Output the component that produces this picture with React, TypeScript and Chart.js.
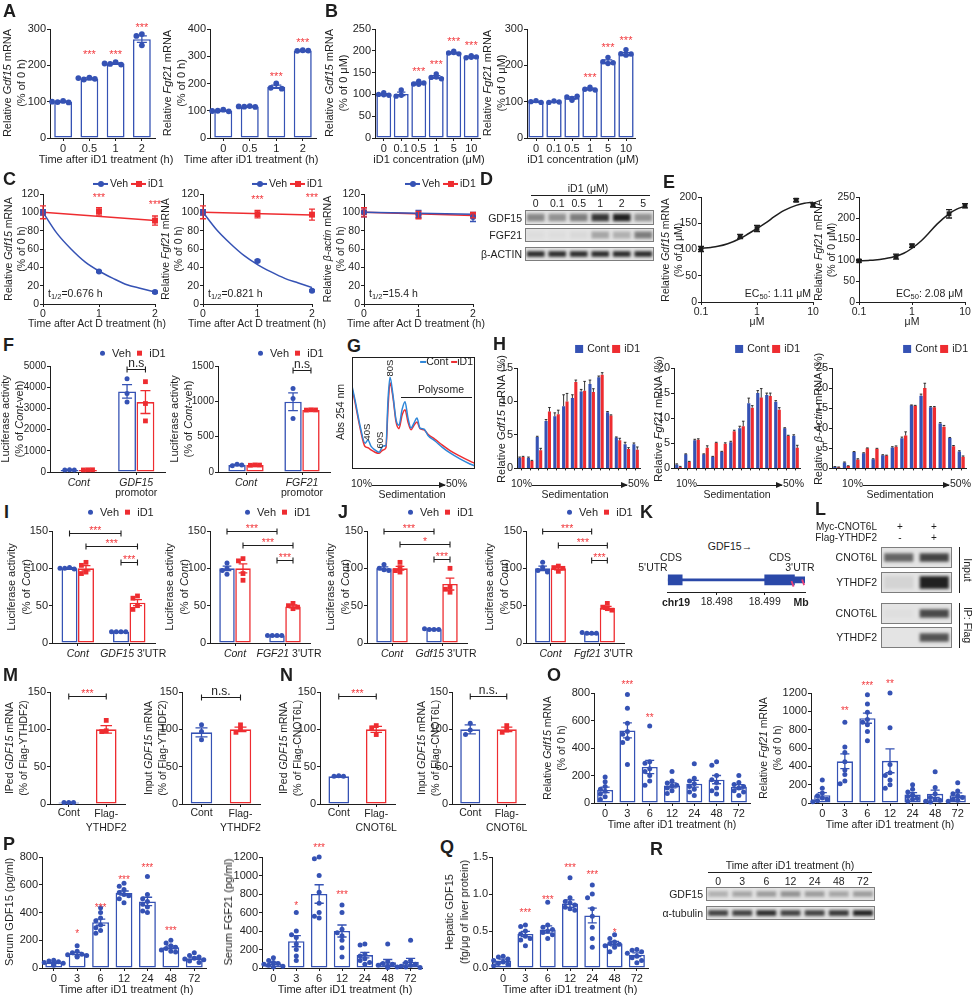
import React, { useEffect, useRef } from "react";
import { Chart, registerables } from "chart.js";

Chart.register(...registerables);

const FF = "'Liberation Sans', Arial, Helvetica, sans-serif";
const INK = "#1e1e1e";
const BLUE = "#3552b4";
const RED = "#ee2c30";
const STAR = "#f23b3f";
const GBLUE = "#2e86d8";
const KBLUE = "#2a48a8";
const PINK = "#e8407a";
Chart.defaults.font.family = FF;
Chart.defaults.color = INK;

/* ====================== DATA ====================== */
// A
const A_times = ["0", "0.5", "1", "2"];
const A1_mean = [100, 163, 205, 272];
const A1_sem = [1.5, 2.5, 2, 9];
const A1_pts = [[102, 99, 98, 100], [166, 161, 163, 165], [209, 204, 202, 205], [286, 281, 255]];
const A1_sig = ["", "***", "***", "***"];
const A1_sigY = [0, 238, 238, 312];
const A2_mean = [100, 116, 188, 320];
const A2_sem = [1.5, 1, 6, 1];
const A2_pts = [[104, 100, 98, 99], [117, 115, 114, 116], [200, 184, 181], [322, 320, 321]];
const A2_sig = ["", "", "***", "***"];
const A2_sigY = [0, 0, 237, 360];
// B
const B_conc = ["0", "0.1", "0.5", "1", "5", "10"];
const B1_mean = [100, 101, 126, 140, 195, 186];
const B1_sem = [1.5, 4, 2, 3, 1.5, 1.5];
const B1_pts = [[104, 100, 98, 99], [110, 98, 96], [130, 124, 126, 123], [147, 139, 136, 140], [199, 195, 193, 196], [189, 184, 186, 185]];
const B1_sig = ["", "", "***", "***", "***", "***"];
const B1_sigY = [0, 0, 160, 175, 227, 218];
const B2_mean = [100, 100, 110, 135, 210, 231];
const B2_sem = [1, 1, 3, 2, 5, 4];
const B2_pts = [[103, 100, 98], [102, 98, 99], [104, 113, 115, 109], [140, 134, 132, 135], [222, 210, 205, 207], [243, 232, 228, 231]];
const B2_sig = ["", "", "", "***", "***", "***"];
const B2_sigY = [0, 0, 0, 174, 258, 277];
// C
const C_t = [0, 1, 2];
const C_fitT = [0, 0.25, 0.5, 0.75, 1, 1.25, 1.5, 1.75, 2];
const C_lineT = [0, 2];
const C1_veh = [100, 35.5, 13];
const C1_vehSem = [3, 1, 1];
const C1_id1 = [100, 101, 91];
const C1_id1Sem = [7, 4, 5];
const C1_vehFit = [100, 77, 60, 46, 36, 28, 21, 17, 13];
const C1_id1Fit = [100, 91];
const C1_sig = ["", "***", "***"];
const C1_sigY = [0, 119, 111];
const C2_veh = [100, 47, 14.5];
const C2_vehSem = [3, 1, 1];
const C2_id1 = [100, 98, 97.5];
const C2_id1Sem = [7, 4, 6];
const C2_vehFit = [100, 81, 66, 53, 43, 35, 28, 23, 18];
const C2_id1Fit = [100, 97];
const C2_sig = ["", "***", "***"];
const C2_sigY = [0, 117, 119];
const C3_veh = [100, 98, 95];
const C3_vehSem = [5, 4, 5];
const C3_id1 = [100, 97, 97];
const C3_id1Sem = [5, 4, 3];
const C3_vehFit = [100, 98];
const C3_id1Fit = [100, 96.5];
// D blot (band intensities)
const D_lanes = ["0", "0.1", "0.5", "1", "2", "5"];
const D_gdf15 = [0.45, 0.4, 0.5, 0.85, 0.95, 0.4];
const D_fgf21 = [0.03, 0.03, 0.05, 0.3, 0.25, 0.5];
const D_actin = [0.9, 0.9, 0.9, 0.9, 0.9, 0.9];
// E
const E_x = [0.1, 0.5, 1, 5, 10];
const E_fitX = [0.1, 0.15, 0.2, 0.3, 0.5, 0.7, 1, 1.5, 2, 3, 5, 7, 10];
const E_ticks = [0.1, 1, 10];
const E1_y = [101, 125, 140, 194, 185];
const E1_sem = [5, 4, 6, 3, 4];
const E1_fit = [102, 104, 106, 111, 121, 130, 140, 152, 162, 174, 184, 188, 190];
const E2_y = [98, 108, 134, 210, 229];
const E2_sem = [3, 6, 4, 10, 5];
const E2_fit = [98, 99, 100, 103, 109, 116, 128, 146, 162, 186, 210, 221, 228];
// F
const F_cats = ["Cont", "promotor"];
const F1_veh = [100, 3800];
const F1_vehSem = [6, 320];
const F1_id1 = [100, 3300];
const F1_id1Sem = [4, 540];
const F1_vehPts = [[110, 95, 100], [4400, 3700, 3300]];
const F1_id1Pts = [[102, 96, 104], [4260, 3230, 2410]];
const F1_nsY = 4870;
const F2_veh = [100, 994];
const F2_vehSem = [6, 125];
const F2_id1 = [98, 879];
const F2_id1Sem = [2, 2];
const F2_vehPts = [[110, 90, 100], [1183, 1041, 757]];
const F2_id1Pts = [[100, 95, 98], [880, 876, 878]];
const F2_nsY = 1445;
// G polysome profile (x: % of gradient, y: relative A254)
const G_x = [0, 2.4, 6.5, 10.6, 13, 15.4, 18.7, 22, 25.2, 27.6, 29.3, 30.9, 33.3, 35.8, 38.2, 40.7, 43.1, 45.5, 48, 50.4, 52.8, 55.3, 58.5, 61.8, 67.5, 73.2, 79.7, 87.8, 95.9, 100];
const G_cont = [74, 62, 39, 23, 26, 20.5, 17, 15, 20.5, 21, 62, 82, 66, 44, 39, 53, 60, 45.5, 36.6, 41, 45.5, 36.6, 35.7, 30, 25, 19.6, 14.3, 9, 4.5, 2.7];
const G_id1 = [72, 60, 37, 20, 19, 17, 15, 14, 17, 19, 55, 77, 64, 42, 36, 48, 53, 42, 35, 39, 42, 36, 35, 31, 26.5, 21.5, 16.5, 11.5, 7, 5];
// H
const H_frac = ["1", "2", "3", "4", "5", "6", "7", "8", "9", "10", "11", "12", "13", "14"];
const H1_cont = [1.6, 1.6, 4.7, 7.1, 7.8, 9.3, 10.5, 11.5, 12.6, 13.6, 8.4, 4.6, 3.6, 3.6];
const H1_id1 = [1.7, 1.1, 2.7, 8.5, 8.1, 10.0, 12.9, 11.6, 11.4, 14.0, 7.9, 4.2, 2.9, 2.8];
const H1_contSem = [0.1, 0.1, 0.1, 0.2, 0.5, 1.7, 0.5, 0.3, 0.6, 0.2, 0.1, 0.1, 0.3, 0.2];
const H1_id1Sem = [0.1, 0.1, 0.3, 0.6, 0.6, 1.2, 0.3, 1.4, 0.5, 0.3, 0.1, 0.3, 0.2, 0.4];
const H2_cont = [0.8, 2.8, 5.6, 2.8, 2.3, 3.3, 5.2, 8.0, 13.0, 15.0, 14.6, 13.3, 8.0, 6.5];
const H2_id1 = [0.3, 1.3, 5.7, 4.1, 5.1, 4.9, 7.4, 8.4, 12.1, 14.1, 14.4, 11.7, 6.5, 4.1];
const H2_contSem = [0.1, 0.1, 0.2, 0.1, 0.1, 0.1, 0.2, 0.4, 1.0, 0.5, 0.4, 0.2, 0.1, 0.2];
const H2_id1Sem = [0.1, 0.1, 0.2, 0.4, 0.1, 0.2, 0.2, 1.0, 0.4, 1.8, 0.6, 0.4, 0.1, 0.5];
const H3_cont = [0.4, 1.5, 4.1, 3.8, 2.3, 3.3, 5.2, 7.5, 15.7, 18.1, 15.2, 11.2, 7.6, 4.2];
const H3_id1 = [0.3, 0.6, 2.2, 5.0, 4.9, 3.2, 5.4, 8.2, 15.6, 20.0, 15.2, 10.4, 5.5, 2.9];
const H3_contSem = [0.05, 0.1, 0.1, 0.1, 0.1, 0.1, 0.2, 0.3, 0.1, 0.4, 0.2, 0.2, 0.1, 0.2];
const H3_id1Sem = [0.05, 0.05, 0.2, 0.1, 0.1, 0.1, 0.2, 0.9, 0.1, 1.2, 0.2, 0.3, 0.2, 0.2];
// I / J
const IJ_cats = ["Cont", "3'UTR"];
const I1_veh = [100, 15];
const I1_vehSem = [1, 0.3];
const I1_id1 = [100, 54];
const I1_id1Sem = [3.5, 4];
const I1_vehPts = [[101, 100, 99, 100], [15, 15, 15, 15]];
const I1_id1Pts = [[108, 104, 95, 93], [63, 60, 50, 45]];
const I1_brY = [147, 130, 108];
const I1_brT = ["***", "***", "***"];
const I2_veh = [100, 10];
const I2_vehSem = [3, 0.3];
const I2_id1 = [100, 49];
const I2_id1Sem = [6, 2];
const I2_vehPts = [[107, 100, 97, 92], [10, 10, 10, 10]];
const I2_id1Pts = [[113, 110, 93, 84], [53, 50, 48, 46]];
const I2_brY = [150, 131, 111];
const I2_brT = ["***", "***", "***"];
const J1_veh = [100, 18.5];
const J1_vehSem = [2, 0.3];
const J1_id1 = [100, 79];
const J1_id1Sem = [2.5, 8];
const J1_vehPts = [[105, 100, 98, 97], [18, 18, 18, 19]];
const J1_id1Pts = [[108, 101, 97, 95], [100, 75, 72, 68]];
const J1_brY = [150, 132, 112];
const J1_brT = ["***", "*", "***"];
const J2_veh = [100, 13];
const J2_vehSem = [3, 0.4];
const J2_id1 = [100, 47];
const J2_id1Sem = [2, 2];
const J2_vehPts = [[108, 101, 97, 95], [13, 13, 13, 14]];
const J2_id1Pts = [[103, 101, 100, 96], [53, 48, 46, 44]];
const J2_brY = [150, 131, 111];
const J2_brT = ["***", "***", "***"];
// K gene model (Mb)
const K_range = [18.49698, 18.49984];
const K_exon1 = [18.49698, 18.49728];
const K_exon2 = [18.499, 18.49962];
const K_utr3 = [18.49962, 18.49984];
const K_ticks = [18.498, 18.499];
const K_m6a = [18.49958, 18.4998];
// L blot
const L_inCnot = [0.62, 0.78];
const L_inYth = [0.08, 0.95];
const L_ipCnot = [0.02, 0.75];
const L_ipYth = [0.0, 0.7];
// M / N
const MN_cats = ["Cont", "Flag"];
const M1_mean = [2, 100];
const M1_sem = [0.3, 5];
const M1_contPts = [[2, 2, 2], []];
const M1_flagPts = [[], [112, 98, 97]];
const M1_br = { y: 144, t: "***" };
const M2_mean = [96, 100];
const M2_sem = [6, 3];
const M2_contPts = [[106, 97, 86], []];
const M2_flagPts = [[], [106, 100, 96]];
const M2_br = { y: 143, t: "n.s." };
const N1_mean = [37, 100];
const N1_sem = [0.5, 4];
const N1_contPts = [[38, 37, 37], []];
const N1_flagPts = [[], [105, 102, 93]];
const N1_br = { y: 144, t: "***" };
const N2_mean = [100, 100];
const N2_sem = [6, 3];
const N2_contPts = [[108, 99, 93], []];
const N2_flagPts = [[], [105, 99, 96]];
const N2_br = { y: 144, t: "n.s." };
// O / P / Q (time course, h)
const T_h = ["0", "3", "6", "12", "24", "48", "72"];
const O1_mean = [95, 528, 262, 128, 140, 170, 118];
const O1_sem = [20, 55, 48, 18, 25, 30, 16];
const O1_pts = [[190, 155, 120, 100, 85, 65, 45, 25], [790, 690, 580, 520, 500, 470, 440, 280], [560, 300, 290, 250, 230, 200, 160, 130], [230, 160, 145, 130, 125, 110, 90, 70], [285, 180, 160, 140, 120, 100, 80, 55], [300, 275, 200, 170, 150, 110, 90, 65], [200, 150, 135, 120, 110, 90, 80, 55]];
const O1_sig = ["", "***", "**", "", "", "", ""];
const O1_sigY = [0, 880, 640, 0, 0, 0, 0];
const O2_mean = [85, 455, 925, 460, 92, 100, 85];
const O2_sem = [28, 80, 55, 130, 22, 40, 25];
const O2_pts = [[250, 160, 110, 80, 55, 40, 25, 15], [880, 610, 550, 450, 360, 310, 240, 210], [1180, 1080, 990, 910, 880, 855, 780, 680], [1200, 820, 420, 330, 300, 250, 200, 160], [200, 150, 120, 90, 70, 50, 40, 20], [340, 170, 100, 60, 40, 30, 20, 10], [220, 130, 100, 80, 60, 40, 30, 20]];
const O2_sig = ["", "**", "***", "**", "", "", ""];
const O2_sigY = [0, 1030, 1310, 1325, 0, 0, 0];
const P1_mean = [38, 105, 330, 540, 480, 150, 70];
const P1_sem = [4, 8, 22, 15, 30, 10, 8];
const P1_pts = [[55, 50, 45, 40, 35, 30, 25, 20], [160, 120, 110, 100, 95, 90, 85, 80], [435, 400, 360, 340, 310, 290, 270, 250], [610, 590, 565, 545, 530, 520, 500, 470], [660, 530, 500, 480, 460, 440, 410, 400], [200, 180, 160, 150, 140, 130, 120, 115], [110, 90, 80, 70, 65, 60, 50, 40]];
const P1_sig = ["", "*", "***", "***", "***", "***", ""];
const P1_sigY = [0, 262, 452, 656, 740, 288, 0];
const P2_mean = [50, 290, 800, 400, 140, 62, 68];
const P2_sem = [12, 60, 100, 65, 30, 30, 35];
const P2_pts = [[110, 80, 60, 50, 40, 30, 20, 10], [600, 400, 360, 330, 260, 200, 130, 80], [1200, 1180, 1000, 820, 700, 600, 560, 540], [680, 600, 420, 380, 350, 300, 220, 120], [260, 250, 150, 130, 100, 80, 60, 40], [260, 70, 50, 40, 30, 20, 10, 5], [300, 80, 60, 40, 30, 20, 10, 5]];
const P2_sig = ["", "*", "***", "***", "", "", ""];
const P2_sigY = [0, 700, 1326, 822, 0, 0, 0];
const Q_mean = [0.1, 0.46, 0.52, 0.87, 0.71, 0.33, 0.18];
const Q_sem = [0.02, 0.035, 0.05, 0.05, 0.1, 0.03, 0.025];
const Q_pts = [[0.16, 0.15, 0.12, 0.1, 0.08, 0.06, 0.05, 0.03], [0.58, 0.56, 0.5, 0.46, 0.43, 0.4, 0.38, 0.3], [0.89, 0.58, 0.55, 0.52, 0.5, 0.48, 0.45, 0.4], [1.22, 0.95, 0.9, 0.88, 0.85, 0.82, 0.8, 0.78], [1.12, 1.0, 0.95, 0.8, 0.7, 0.55, 0.4, 0.28], [0.45, 0.4, 0.35, 0.33, 0.32, 0.3, 0.28, 0.22], [0.25, 0.24, 0.22, 0.2, 0.16, 0.14, 0.1, 0.07]];
const Q_sig = ["", "***", "***", "***", "***", "*", ""];
const Q_sigY = [0, 0.78, 0.96, 1.39, 1.3, 0.51, 0];
// R blot
const R_lanes = ["0", "3", "6", "12", "24", "48", "72"];
const R_gdf15 = [0.25, 0.3, 0.35, 0.4, 0.35, 0.3, 0.35];
const R_tub = [0.8, 0.8, 0.9, 0.8, 0.8, 0.85, 0.95];

/* ====================== LAYOUT ====================== */
type Plot = [number, number, number, number];
const PA1: Plot = [50, 29, 155, 138];
const PA2: Plot = [210, 29, 316, 138];
const PB1: Plot = [375, 29, 480, 138];
const PB2: Plot = [527, 29, 635, 138];
const PC1: Plot = [43, 194, 155, 304];
const PC2: Plot = [203, 194, 312, 304];
const PC3: Plot = [364, 194, 473, 304];
const PE1: Plot = [701, 197, 813, 302];
const PE2: Plot = [859, 197, 965, 302];
const PF1: Plot = [50, 366, 165, 472];
const PF2: Plot = [218, 366, 330, 472];
const PG: Plot = [352, 357, 475, 469];
const PH1: Plot = [517, 368, 640, 470];
const PH2: Plot = [674, 368, 800, 470];
const PH3: Plot = [832, 368, 966, 470];
const PI1: Plot = [52, 531, 155, 643];
const PI2: Plot = [210, 531, 310, 643];
const PJ1: Plot = [367, 531, 467, 643];
const PJ2: Plot = [526, 531, 624, 643];
const PK: Plot = [662, 562, 805, 592];
const PM1: Plot = [50, 692, 125, 804];
const PM2: Plot = [182, 692, 260, 804];
const PN1: Plot = [320, 692, 395, 804];
const PN2: Plot = [452, 692, 525, 804];
const PO1: Plot = [594, 693, 750, 803];
const PO2: Plot = [811, 693, 969, 803];
const PP1: Plot = [42, 857, 206, 968];
const PP2: Plot = [262, 857, 422, 968];
const PQ: Plot = [492, 857, 648, 968];
const BD = [[525, 210, 129, 15], [525, 228, 129, 14], [525, 247, 129, 14]];
const BL = [[881, 547, 71, 21], [881, 572, 71, 21], [881, 603, 71, 21], [881, 627, 71, 21]];
const BR = [[706, 887, 169, 14], [706, 906, 169, 14]];

const cx = (p: Plot, n: number, i: number) => p[0] + ((i + 0.5) * (p[2] - p[0])) / n;
const gx = (k: number, n: number, c: number) => c * ((k + 0.5) / n - 0.5);

/* ====================== PLUGINS ====================== */
const errPlugin = {
  id: "errbars",
  afterDatasetsDraw(chart: any) {
    const ctx = chart.ctx;
    chart.data.datasets.forEach((ds: any, di: number) => {
      if (!ds.sem) return;
      const meta = chart.getDatasetMeta(di);
      const ys = chart.scales[meta.yAxisID];
      ctx.save();
      ctx.lineWidth = ds.errW || 1.3;
      meta.data.forEach((el: any, i: number) => {
        const s = ds.sem[i];
        if (s == null) return;
        const raw = ds.data[i];
        const v = typeof raw === "number" ? raw : raw.y;
        const x = el.x;
        const yT = ys.getPixelForValue(v + s);
        const yB = ys.getPixelForValue(v - s);
        const yM = ys.getPixelForValue(v);
        const cw = ds.capW ?? 3;
        const col = ds.errColor;
        ctx.strokeStyle = Array.isArray(col) ? col[i] : col;
        ctx.beginPath();
        ctx.moveTo(x, ds.errUp ? yM : yB);
        ctx.lineTo(x, yT);
        ctx.moveTo(x - cw, yT);
        ctx.lineTo(x + cw, yT);
        if (!ds.errUp) {
          ctx.moveTo(x - cw, yB);
          ctx.lineTo(x + cw, yB);
        }
        ctx.stroke();
      });
      ctx.restore();
    });
  },
};

// scatter dots of a bar panel, positioned through the category x scale and linear y scale
function dotsPlugin(sets: any[]) {
  return {
    id: "dots",
    afterDatasetsDraw(chart: any) {
      const xs = chart.scales.x;
      const ys = chart.scales.y;
      const ctx = chart.ctx;
      const step = xs.getPixelForValue(1) - xs.getPixelForValue(0);
      ctx.save();
      sets.forEach((st) => {
        ctx.fillStyle = st.color;
        st.pts.forEach((p: any) => {
          const x = xs.getPixelForValue(p.i) + p.g * step + p.dx;
          const y = ys.getPixelForValue(p.v);
          ctx.beginPath();
          if (st.rect) ctx.rect(x - st.sz / 2, y - st.sz / 2, st.sz, st.sz);
          else ctx.arc(x, y, st.sz / 2, 0, Math.PI * 2);
          ctx.fill();
        });
      });
      ctx.restore();
    },
  };
}

function annPlugin(stars: any[], brackets: any[], fs: number, isCat: boolean) {
  return {
    id: "ann",
    afterDatasetsDraw(chart: any) {
      const ctx = chart.ctx;
      const xs = chart.scales.x;
      const ys = chart.scales.y;
      const xp = isCat
        ? (v: number) => xs.getPixelForValue(0) + v * (xs.getPixelForValue(1) - xs.getPixelForValue(0))
        : (v: number) => xs.getPixelForValue(v);
      ctx.save();
      ctx.textAlign = "center";
      ctx.textBaseline = "alphabetic";
      brackets.forEach((b) => {
        const xa = xp(b.x1);
        const xb = xp(b.x2);
        const y = Math.round(ys.getPixelForValue(b.y)) + 0.5;
        ctx.strokeStyle = INK;
        ctx.lineWidth = 1.1;
        ctx.beginPath();
        ctx.moveTo(xa, y);
        ctx.lineTo(xb, y);
        ctx.moveTo(xa, y - 3);
        ctx.lineTo(xa, y + 3);
        ctx.moveTo(xb, y - 3);
        ctx.lineTo(xb, y + 3);
        ctx.stroke();
        const star = b.t.indexOf("*") >= 0;
        const f = star ? fs : fs + 1.5;
        ctx.fillStyle = star ? STAR : INK;
        ctx.font = `${f}px ${FF}`;
        ctx.fillText(b.t, (xa + xb) / 2, star ? y - 6 + f * 0.58 : y - 3);
      });
      stars.forEach((s) => {
        const x = xp(s.x);
        const y = ys.getPixelForValue(s.y);
        ctx.fillStyle = STAR;
        ctx.font = `${fs}px ${FF}`;
        ctx.fillText(s.t, x, y + fs * 0.58);
      });
      ctx.restore();
    },
  };
}

const framePlugin = {
  id: "frame",
  afterDraw(chart: any) {
    const { ctx, chartArea: a } = chart;
    ctx.save();
    ctx.strokeStyle = INK;
    ctx.lineWidth = 1;
    ctx.strokeRect(a.left + 0.5, a.top + 0.5, a.width - 1, a.height - 1);
    ctx.restore();
  },
};

const blotPlugin = {
  id: "blot",
  beforeDatasetsDraw(chart: any) {
    const { ctx, chartArea: a } = chart;
    ctx.save();
    ctx.fillStyle = "#e4e4e4";
    ctx.fillRect(a.left, a.top, a.width, a.height);
    ctx.restore();
    ctx.save();
    ctx.filter = "blur(1.4px)";
  },
  afterDatasetsDraw(chart: any) {
    const { ctx, chartArea: a } = chart;
    ctx.restore();
    ctx.save();
    ctx.strokeStyle = "#7d7d7d";
    ctx.lineWidth = 1;
    ctx.strokeRect(a.left + 0.5, a.top + 0.5, a.width - 1, a.height - 1);
    ctx.restore();
  },
};

const noEvents = { responsive: false, maintainAspectRatio: false, animation: false, events: [] as any[] };
const noLegend = { legend: { display: false }, tooltip: { enabled: false } };

/* ====================== BUILDERS ====================== */
function yAxis(min: number, max: number, step: number, fs: number, L: number, fmt?: (v: number) => string) {
  return {
    type: "linear",
    min,
    max,
    ticks: { stepSize: step, font: { size: fs }, color: INK, padding: 1, callback: fmt ?? ((v: any) => String(v)) },
    grid: { drawOnChartArea: false, tickLength: 3, color: INK, lineWidth: 1 },
    border: { display: true, color: INK, width: 1 },
    afterFit: (s: any) => {
      s.width = L;
    },
  };
}

function barChart(p: any) {
  const [x0, y0, x1, y1] = p.plot;
  const L = p.L ?? 36,
    T = p.T ?? 26,
    R = p.R ?? 8;
  const B = p.B ?? (p.xlabels ? 22 : 8);
  const n = p.cats.length;
  const s = (x1 - x0) / n;
  const c = p.catPct ?? 1,
    bp = p.barPct ?? 0.7;
  const nb = p.bars.length;
  const fs = p.fs ?? 11;
  const ymin = p.ymin ?? 0;
  const H = y1 - y0;
  const barW = ((s * c) / nb) * bp;
  const rect = [x0 - L, y0 - T, x1 - x0 + L + R, H + T + B];
  const make = () => {
    const ds: any[] = [];
    p.bars.forEach((b: any) =>
      ds.push({
        type: "bar",
        data: b.data,
        sem: b.sem,
        errUp: b.errUp,
        errColor: b.errColor ?? b.color,
        errW: b.errW ?? 1.3,
        capW: b.capW ?? Math.max(2, barW * 0.28),
        backgroundColor: b.fill ?? "#ffffff",
        borderColor: b.color,
        borderWidth: b.bw ?? 1.6,
        borderSkipped: b.fill ? "start" : false,
        categoryPercentage: c,
        barPercentage: bp,
      })
    );
    const sets = (p.dots ?? []).map((d: any) => {
      const sz = d.sz ?? 4.8;
      const pts: any[] = [];
      d.pts.forEach((arr: number[], i: number) => {
        const placed: number[][] = [];
        arr.forEach((v) => {
          const py = ((v - ymin) / (p.ymax - ymin)) * H;
          let off = 0;
          for (let m = 0; m < 15; m++) {
            const cand = m === 0 ? 0 : (m % 2 ? -1 : 1) * Math.ceil(m / 2) * sz * 0.95;
            if (Math.abs(cand) > barW * 0.62 + 0.1) continue;
            if (placed.every((q) => Math.hypot(q[0] - cand, q[1] - py) >= sz * 0.9)) {
              off = cand;
              break;
            }
          }
          placed.push([off, py]);
          pts.push({ i, g: d.off ?? 0, dx: off, v });
        });
      });
      return { pts, color: d.color, rect: d.shape === "rect", sz };
    });
    return {
      type: "bar",
      data: { labels: p.cats, datasets: ds },
      options: {
        ...noEvents,
        layout: { padding: { top: T, right: R, left: 0, bottom: 0 } },
        plugins: noLegend,
        scales: {
          x: {
            type: "category",
            offset: true,
            ticks: { display: !!p.xlabels, font: { size: fs }, color: INK, autoSkip: false, maxRotation: 0, padding: 1 },
            grid: { drawOnChartArea: false, offset: false, tickLength: p.tickLen ?? 3, color: INK, lineWidth: 1 },
            border: { display: true, color: INK, width: 1 },
            afterFit: (sc: any) => {
              sc.height = B;
            },
          },
          y: yAxis(ymin, p.ymax, p.step, p.yfs ?? fs, L, p.yfmt),
        },
      },
      plugins: [errPlugin, dotsPlugin(sets), annPlugin(p.stars ?? [], p.brackets ?? [], p.sfs ?? 10.5, true)],
    };
  };
  return { rect, make };
}

function lineChart(p: any) {
  const [x0, y0, x1, y1] = p.plot;
  const L = 36,
    T = 24,
    R = 12,
    B = 20;
  const fs = p.fs ?? 10.5;
  const rect = [x0 - L, y0 - T, x1 - x0 + L + R, y1 - y0 + T + B];
  const make = () => {
    const ds: any[] = [];
    p.lines.forEach((l: any) =>
      ds.push({
        type: "line",
        data: l.x.map((x: number, i: number) => ({ x, y: l.y[i] })),
        borderColor: l.color,
        borderWidth: 1.5,
        pointRadius: 0,
        tension: l.smooth ? 0.4 : 0,
        cubicInterpolationMode: l.smooth ? "monotone" : "default",
        fill: false,
        order: l.order ?? 3,
      })
    );
    p.pts.forEach((q: any) =>
      ds.push({
        type: "scatter",
        data: q.x.map((x: number, i: number) => ({ x, y: q.y[i] })),
        sem: q.sem,
        errColor: q.color,
        errW: 1.3,
        capW: 3,
        pointStyle: q.shape,
        pointRadius: q.r,
        backgroundColor: q.color,
        borderColor: q.color,
        borderWidth: 0,
        order: q.order ?? 1,
        clip: false,
      })
    );
    const xScale: any = p.log
      ? {
          type: "logarithmic",
          min: p.xmin,
          max: p.xmax,
          afterBuildTicks: (s: any) => {
            s.ticks = p.xticks.map((v: number) => ({ value: v }));
          },
          ticks: { font: { size: fs }, color: INK, padding: 1, callback: (v: any) => String(v) },
        }
      : { type: "linear", min: p.xmin, max: p.xmax, ticks: { stepSize: 1, font: { size: fs }, color: INK, padding: 1 } };
    Object.assign(xScale, {
      grid: { drawOnChartArea: false, tickLength: 3, color: INK },
      border: { display: true, color: INK, width: 1 },
      afterFit: (s: any) => {
        s.height = B;
      },
    });
    return {
      type: "line",
      data: { datasets: ds },
      options: {
        ...noEvents,
        layout: { padding: { top: T, right: R, left: 0, bottom: 0 } },
        plugins: noLegend,
        scales: { x: xScale, y: yAxis(0, p.ymax, p.step, fs, L) },
      },
      plugins: [errPlugin, annPlugin(p.stars ?? [], [], 10.5, false)],
    };
  };
  return { rect, make };
}

function blotChart(r: number[], vals: number[], band: number[]) {
  return {
    rect: r,
    make: () => ({
      type: "bar",
      data: {
        labels: vals.map((_, i) => String(i)),
        datasets: [
          {
            data: vals.map(() => band),
            backgroundColor: vals.map((v) => `rgba(22,22,22,${v})`),
            borderWidth: 0,
            categoryPercentage: 1,
            barPercentage: 0.82,
          },
        ],
      },
      options: {
        ...noEvents,
        layout: { padding: 0 },
        plugins: noLegend,
        scales: { x: { display: false }, y: { display: false, min: 0, max: 1 } },
      },
      plugins: [blotPlugin],
    }),
  };
}

function sigList(sig: string[], y: number[]) {
  const out: any[] = [];
  sig.forEach((t, i) => {
    if (t) out.push({ x: i, y: y[i], t });
  });
  return out;
}
function sigListX(xs: number[], sig: string[], y: number[]) {
  const out: any[] = [];
  sig.forEach((t, i) => {
    if (t) out.push({ x: xs[i], y: y[i], t });
  });
  return out;
}

function groupPanel(plot: Plot, ymax: number, step: number, veh: number[], vehSem: number[], id1: number[], id1Sem: number[], vehPts: number[][], id1Pts: number[][], brackets: any[], cat: number, extra?: any) {
  return barChart({
    plot,
    ymax,
    step,
    cats: IJ_cats,
    catPct: cat,
    barPct: 0.97,
    bars: [
      { data: veh, sem: vehSem, color: BLUE },
      { data: id1, sem: id1Sem, color: RED },
    ],
    dots: [
      { pts: vehPts, off: gx(0, 2, cat), color: BLUE, sz: 5 },
      { pts: id1Pts, off: gx(1, 2, cat), color: RED, shape: "rect", sz: 4.8 },
    ],
    brackets,
    ...extra,
  });
}

function ijBrackets(yv: number[], tv: string[], c: number) {
  const o0 = gx(0, 2, c),
    o1 = gx(1, 2, c);
  return [
    { x1: 0 + o0, x2: 1 + o0, y: yv[0], t: tv[0] },
    { x1: 0 + o1, x2: 1 + o1, y: yv[1], t: tv[1] },
    { x1: 1 + o0, x2: 1 + o1, y: yv[2], t: tv[2] },
  ];
}

function mnPanel(plot: Plot, mean: number[], sem: number[], cPts: number[][], fPts: number[][], br: any) {
  return barChart({
    plot,
    ymax: 150,
    step: 50,
    cats: MN_cats,
    barPct: 0.55,
    bars: [{ data: mean, sem, color: [BLUE, RED], errColor: [BLUE, RED] }],
    dots: [
      { pts: cPts, color: BLUE, sz: 5 },
      { pts: fPts, color: RED, shape: "rect", sz: 4.8 },
    ],
    brackets: [{ x1: 0, x2: 1, y: br.y, t: br.t }],
  });
}

function hPanel(plot: Plot, ymax: number, cont: number[], contSem: number[], id1: number[], id1Sem: number[]) {
  return barChart({
    plot,
    ymax,
    step: 5,
    cats: H_frac,
    catPct: 0.78,
    barPct: 0.9,
    B: 6,
    tickLen: 2,
    bars: [
      { data: cont, sem: contSem, color: BLUE, fill: BLUE, bw: 0, errUp: true, errColor: INK, errW: 0.9, capW: 1.3 },
      { data: id1, sem: id1Sem, color: RED, fill: RED, bw: 0, errUp: true, errColor: INK, errW: 0.9, capW: 1.3 },
    ],
  });
}

function timePanel(plot: Plot, ymax: number, step: number, mean: number[], sem: number[], pts: number[][], sig: string[], sigY: number[], yfmt?: any) {
  return barChart({
    plot,
    ymax,
    step,
    cats: T_h,
    xlabels: true,
    barPct: 0.72,
    bars: [{ data: mean, sem, color: BLUE }],
    dots: [{ pts, color: BLUE, sz: 5 }],
    stars: sigList(sig, sigY),
    yfmt,
    sfs: 10,
  });
}

const geneChart = {
  rect: [PK[0], PK[1], PK[2] - PK[0] + 14, PK[3] - PK[1] + 16],
  make: () => ({
    type: "bar",
    data: {
      labels: ["GDF15"],
      datasets: [
        { data: [K_utr3], backgroundColor: KBLUE, barThickness: 6, grouped: false, order: 1 },
        { data: [K_exon1], backgroundColor: KBLUE, barThickness: 10, grouped: false, order: 1 },
        { data: [K_exon2], backgroundColor: KBLUE, barThickness: 10, grouped: false, order: 1 },
        { data: [K_range], backgroundColor: KBLUE, barThickness: 2, grouped: false, order: 2 },
        {
          type: "scatter",
          indexAxis: "x",
          data: K_m6a.map((x, i) => ({ x, y: i === 0 ? 0.18 : 0.3 })),
          xAxisID: "x",
          yAxisID: "y2",
          pointStyle: "line",
          rotation: 70,
          pointRadius: 3,
          borderColor: PINK,
          borderWidth: 1.8,
          order: 0,
          clip: false,
        },
      ],
    },
    options: {
      ...noEvents,
      indexAxis: "y",
      layout: { padding: { left: 0, right: 14, top: 0, bottom: 0 } },
      plugins: noLegend,
      scales: {
        x: {
          type: "linear",
          min: K_range[0],
          max: K_range[1],
          afterBuildTicks: (s: any) => {
            s.ticks = K_ticks.map((v) => ({ value: v }));
          },
          ticks: { font: { size: 10.5 }, color: INK, padding: 1, callback: (v: any) => Number(v).toFixed(3) },
          grid: { drawOnChartArea: false, tickLength: 3, color: INK },
          border: { display: true, color: INK, width: 1 },
          afterFit: (s: any) => {
            s.height = 16;
          },
        },
        y: { type: "category", display: false },
        y2: { type: "linear", min: 0, max: 1, display: false },
      },
    },
  }),
};

const polyChart = {
  rect: [PG[0], PG[1], PG[2] - PG[0], PG[3] - PG[1]],
  make: () => ({
    type: "line",
    data: {
      datasets: [
        { data: G_x.map((x, i) => ({ x, y: G_cont[i] })), borderColor: GBLUE, borderWidth: 1.5, pointRadius: 0, tension: 0.35, cubicInterpolationMode: "monotone" },
        { data: G_x.map((x, i) => ({ x, y: G_id1[i] })), borderColor: RED, borderWidth: 1.5, pointRadius: 0, tension: 0.35, cubicInterpolationMode: "monotone" },
      ],
    },
    options: {
      ...noEvents,
      layout: { padding: 0 },
      plugins: noLegend,
      scales: { x: { type: "linear", min: 0, max: 100, display: false }, y: { min: 0, max: 100, display: false } },
    },
    plugins: [framePlugin],
  }),
};

const CHARTS: any[] = [
  barChart({ plot: PA1, ymax: 300, step: 100, cats: A_times, xlabels: true, barPct: 0.68, bars: [{ data: A1_mean, sem: A1_sem, color: BLUE }], dots: [{ pts: A1_pts, color: BLUE, sz: 5.8 }], stars: sigList(A1_sig, A1_sigY), sfs: 11 }),
  barChart({ plot: PA2, ymax: 400, step: 100, cats: A_times, xlabels: true, barPct: 0.68, bars: [{ data: A2_mean, sem: A2_sem, color: BLUE }], dots: [{ pts: A2_pts, color: BLUE, sz: 5.8 }], stars: sigList(A2_sig, A2_sigY), sfs: 11 }),
  barChart({ plot: PB1, ymax: 250, step: 50, cats: B_conc, xlabels: true, barPct: 0.85, bars: [{ data: B1_mean, sem: B1_sem, color: BLUE }], dots: [{ pts: B1_pts, color: BLUE, sz: 5.4 }], stars: sigList(B1_sig, B1_sigY), sfs: 11 }),
  barChart({ plot: PB2, ymax: 300, step: 100, cats: B_conc, xlabels: true, barPct: 0.85, bars: [{ data: B2_mean, sem: B2_sem, color: BLUE }], dots: [{ pts: B2_pts, color: BLUE, sz: 5.4 }], stars: sigList(B2_sig, B2_sigY), sfs: 11 }),
  lineChart({
    plot: PC1, xmin: 0, xmax: 2, ymax: 120, step: 20,
    lines: [{ x: C_lineT, y: C1_id1Fit, color: RED }, { x: C_fitT, y: C1_vehFit, color: BLUE, smooth: true, order: 2 }],
    pts: [{ x: C_t, y: C1_veh, sem: C1_vehSem, color: BLUE, shape: "circle", r: 3 }, { x: C_t, y: C1_id1, sem: C1_id1Sem, color: RED, shape: "rect", r: 4.2 }],
    stars: sigListX(C_t, C1_sig, C1_sigY),
  }),
  lineChart({
    plot: PC2, xmin: 0, xmax: 2, ymax: 120, step: 20,
    lines: [{ x: C_lineT, y: C2_id1Fit, color: RED }, { x: C_fitT, y: C2_vehFit, color: BLUE, smooth: true, order: 2 }],
    pts: [{ x: C_t, y: C2_veh, sem: C2_vehSem, color: BLUE, shape: "circle", r: 3 }, { x: C_t, y: C2_id1, sem: C2_id1Sem, color: RED, shape: "rect", r: 4.2 }],
    stars: sigListX(C_t, C2_sig, C2_sigY),
  }),
  lineChart({
    plot: PC3, xmin: 0, xmax: 2, ymax: 120, step: 20,
    lines: [{ x: C_lineT, y: C3_id1Fit, color: RED }, { x: C_lineT, y: C3_vehFit, color: BLUE, order: 2 }],
    pts: [{ x: C_t, y: C3_veh, sem: C3_vehSem, color: BLUE, shape: "circle", r: 3, order: 0 }, { x: C_t, y: C3_id1, sem: C3_id1Sem, color: RED, shape: "rect", r: 4.2 }],
  }),
  lineChart({
    plot: PE1, log: true, xmin: 0.1, xmax: 10, xticks: E_ticks, ymax: 200, step: 50,
    lines: [{ x: E_fitX, y: E1_fit, color: INK, smooth: true }],
    pts: [{ x: E_x, y: E1_y, sem: E1_sem, color: INK, shape: "rect", r: 3.4 }],
  }),
  lineChart({
    plot: PE2, log: true, xmin: 0.1, xmax: 10, xticks: E_ticks, ymax: 250, step: 50,
    lines: [{ x: E_fitX, y: E2_fit, color: INK, smooth: true }],
    pts: [{ x: E_x, y: E2_y, sem: E2_sem, color: INK, shape: "rect", r: 3.4 }],
  }),
  groupPanel(PF1, 5000, 1000, F1_veh, F1_vehSem, F1_id1, F1_id1Sem, F1_vehPts, F1_id1Pts, [{ x1: 1 + gx(0, 2, 0.64), x2: 1 + gx(1, 2, 0.64), y: F1_nsY, t: "n.s" }], 0.64, { cats: F_cats, yfs: 10 }),
  groupPanel(PF2, 1500, 500, F2_veh, F2_vehSem, F2_id1, F2_id1Sem, F2_vehPts, F2_id1Pts, [{ x1: 1 + gx(0, 2, 0.64), x2: 1 + gx(1, 2, 0.64), y: F2_nsY, t: "n.s" }], 0.64, { cats: F_cats, yfs: 10 }),
  polyChart,
  hPanel(PH1, 15, H1_cont, H1_contSem, H1_id1, H1_id1Sem),
  hPanel(PH2, 20, H2_cont, H2_contSem, H2_id1, H2_id1Sem),
  hPanel(PH3, 25, H3_cont, H3_contSem, H3_id1, H3_id1Sem),
  groupPanel(PI1, 150, 50, I1_veh, I1_vehSem, I1_id1, I1_id1Sem, I1_vehPts, I1_id1Pts, ijBrackets(I1_brY, I1_brT, 0.64), 0.64),
  groupPanel(PI2, 150, 50, I2_veh, I2_vehSem, I2_id1, I2_id1Sem, I2_vehPts, I2_id1Pts, ijBrackets(I2_brY, I2_brT, 0.64), 0.64),
  groupPanel(PJ1, 150, 50, J1_veh, J1_vehSem, J1_id1, J1_id1Sem, J1_vehPts, J1_id1Pts, ijBrackets(J1_brY, J1_brT, 0.64), 0.64),
  groupPanel(PJ2, 150, 50, J2_veh, J2_vehSem, J2_id1, J2_id1Sem, J2_vehPts, J2_id1Pts, ijBrackets(J2_brY, J2_brT, 0.64), 0.64),
  geneChart,
  mnPanel(PM1, M1_mean, M1_sem, M1_contPts, M1_flagPts, M1_br),
  mnPanel(PM2, M2_mean, M2_sem, M2_contPts, M2_flagPts, M2_br),
  mnPanel(PN1, N1_mean, N1_sem, N1_contPts, N1_flagPts, N1_br),
  mnPanel(PN2, N2_mean, N2_sem, N2_contPts, N2_flagPts, N2_br),
  timePanel(PO1, 800, 200, O1_mean, O1_sem, O1_pts, O1_sig, O1_sigY),
  timePanel(PO2, 1200, 200, O2_mean, O2_sem, O2_pts, O2_sig, O2_sigY),
  timePanel(PP1, 800, 200, P1_mean, P1_sem, P1_pts, P1_sig, P1_sigY),
  timePanel(PP2, 1200, 200, P2_mean, P2_sem, P2_pts, P2_sig, P2_sigY),
  timePanel(PQ, 1.5, 0.5, Q_mean, Q_sem, Q_pts, Q_sig, Q_sigY, (v: number) => v.toFixed(1)),
  blotChart(BD[0], D_gdf15, [0.25, 0.75]),
  blotChart(BD[1], D_fgf21, [0.25, 0.75]),
  blotChart(BD[2], D_actin, [0.3, 0.7]),
  blotChart(BL[0], L_inCnot, [0.3, 0.7]),
  blotChart(BL[1], L_inYth, [0.2, 0.8]),
  blotChart(BL[2], L_ipCnot, [0.3, 0.7]),
  blotChart(BL[3], L_ipYth, [0.3, 0.7]),
  blotChart(BR[0], R_gdf15, [0.3, 0.7]),
  blotChart(BR[1], R_tub, [0.3, 0.7]),
];

/* ====================== COMPONENTS ====================== */
function ChartCanvas({ rect, make }: { rect: number[]; make: () => any }) {
  const ref = useRef<HTMLCanvasElement | null>(null);
  useEffect(() => {
    if (!ref.current) return;
    const chart = new Chart(ref.current, make());
    return () => chart.destroy();
  }, []);
  return (
    <canvas
      ref={ref}
      width={rect[2]}
      height={rect[3]}
      style={{ position: "absolute", left: rect[0], top: rect[1], width: rect[2], height: rect[3] }}
    />
  );
}

function Tx({ x, y, a = "c", s = 11, b, it, rot, c = INK, lh, children }: any) {
  const tx = a === "l" ? "0%" : a === "r" ? "-100%" : "-50%";
  return (
    <div
      style={{
        position: "absolute",
        left: x,
        top: y,
        transform: `translate(${rot ? "-50%" : tx}, -50%)${rot ? ` rotate(${rot}deg)` : ""}`,
        fontSize: s,
        fontWeight: b ? "bold" : "normal",
        fontStyle: it ? "italic" : "normal",
        color: c,
        whiteSpace: "nowrap",
        lineHeight: lh ? `${lh}px` : 1.15,
        textAlign: "center",
        fontFamily: FF,
      }}
    >
      {children}
    </div>
  );
}

const Sub = ({ children }: any) => <span style={{ fontSize: "72%", verticalAlign: "-2px" }}>{children}</span>;
function Mk({ c, sq, w = 6 }: any) {
  return <span style={{ display: "inline-block", width: w, height: w, borderRadius: sq ? 0 : "50%", background: c, verticalAlign: "middle", margin: "0 4px 1px 0" }} />;
}
function LMk({ c, sq }: any) {
  return (
    <span style={{ display: "inline-block", position: "relative", width: 15, height: 8, verticalAlign: "middle", margin: "0 2px 1px 0" }}>
      <span style={{ position: "absolute", left: 0, right: 0, top: 3.2, height: 1.6, background: c }} />
      <span style={{ position: "absolute", left: 4.5, top: 1, width: 6, height: 6, borderRadius: sq ? 0 : "50%", background: c }} />
    </span>
  );
}
function Letter({ x, y, t }: any) {
  return <Tx x={x} y={y} a="l" s={18} b>{t}</Tx>;
}
function YT({ x, y, s = 11, lh = 14, children }: any) {
  return <Tx x={x} y={y} rot={-90} s={s} lh={lh}>{children}</Tx>;
}
function HLine({ x0, x1, y }: any) {
  return <div style={{ position: "absolute", left: x0, top: y, width: x1 - x0, height: 1, background: INK }} />;
}
function VLine({ x, y0, y1 }: any) {
  return <div style={{ position: "absolute", left: x, top: y0, width: 1, height: y1 - y0, background: INK }} />;
}
function Sed({ x0, x1, y, cxm }: any) {
  return (
    <>
      <div style={{ position: "absolute", left: x0, top: y - 7, width: x1 - x0, height: 14, display: "flex", alignItems: "center", fontSize: 10.5, fontFamily: FF, color: INK }}>
        <span style={{ marginTop: -3 }}>10%</span>
        <span style={{ flex: 1, height: 1, background: INK, position: "relative", marginTop: 2 }}>
          <span style={{ position: "absolute", right: -1, top: -3, width: 0, height: 0, borderLeft: `7px solid ${INK}`, borderTop: "3.5px solid transparent", borderBottom: "3.5px solid transparent" }} />
        </span>
        <span style={{ marginTop: -3, marginLeft: 1 }}>50%</span>
      </div>
      <Tx x={cxm} y={y + 10} s={10.5}>Sedimentation</Tx>
    </>
  );
}
function LegVI({ x, y }: any) {
  return (
    <Tx x={x} y={y} a="l" s={11}>
      <Mk c={BLUE} w={5} /> Veh&nbsp;&nbsp;<Mk c={RED} sq w={5} /> iD1
    </Tx>
  );
}
function LegCI({ x, y }: any) {
  return (
    <Tx x={x} y={y} a="l" s={10.5}>
      <LMk c={BLUE} />Veh <LMk c={RED} sq />iD1
    </Tx>
  );
}
function LegH({ x, y }: any) {
  return (
    <Tx x={x} y={y} a="r" s={10.5}>
      <Mk c={BLUE} sq w={8} />Cont <Mk c={RED} sq w={8} />iD1
    </Tx>
  );
}

function Texts() {
  const tA = "Time after iD1 treatment (h)";
  return (
    <>
      {/* letters */}
      <Letter x={3} y={11} t="A" />
      <Letter x={325} y={11} t="B" />
      <Letter x={3} y={179} t="C" />
      <Letter x={480} y={179} t="D" />
      <Letter x={663} y={182} t="E" />
      <Letter x={3} y={345} t="F" />
      <Letter x={347} y={346} t="G" />
      <Letter x={493} y={344} t="H" />
      <Letter x={4} y={512} t="I" />
      <Letter x={338} y={512} t="J" />
      <Letter x={640} y={512} t="K" />
      <Letter x={815} y={509} t="L" />
      <Letter x={3} y={675} t="M" />
      <Letter x={280} y={675} t="N" />
      <Letter x={547} y={675} t="O" />
      <Letter x={3} y={844} t="P" />
      <Letter x={440} y={847} t="Q" />
      <Letter x={650} y={849} t="R" />

      {/* A / B */}
      <YT x={14} y={83}>Relative <i>Gdf15</i> mRNA<br />(% of 0 h)</YT>
      <YT x={174} y={83}>Relative <i>Fgf21</i> mRNA<br />(% of 0 h)</YT>
      <YT x={335.5} y={83}>Relative <i>Gdf15</i> mRNA<br />(% of 0 μM)</YT>
      <YT x={494} y={83}>Relative <i>Fgf21</i> mRNA<br />(% of 0 μM)</YT>
      <Tx x={106} y={159}>{tA}</Tx>
      <Tx x={251} y={159}>{tA}</Tx>
      <Tx x={429} y={159}>iD1 concentration (μM)</Tx>
      <Tx x={583} y={159}>iD1 concentration (μM)</Tx>

      {/* C */}
      <LegCI x={93} y={183} />
      <LegCI x={252} y={183} />
      <LegCI x={405} y={183} />
      <YT x={14.5} y={249} s={10.5} lh={13}>Relative <i>Gdf15</i> mRNA<br />(% of 0 h)</YT>
      <YT x={171.5} y={249} s={10.5} lh={13}>Relative <i>Fgf21</i> mRNA<br />(% of 0 h)</YT>
      <YT x={334} y={249} s={10.5} lh={13}>Relative <i>β-actin</i> mRNA<br />(% of 0 h)</YT>
      <Tx x={97} y={323} s={10.5}>Time after Act D treatment (h)</Tx>
      <Tx x={257} y={323} s={10.5}>Time after Act D treatment (h)</Tx>
      <Tx x={416} y={323} s={10.5}>Time after Act D treatment (h)</Tx>
      <Tx x={48} y={294} a="l" s={10.5}>t<Sub>1/2</Sub>=0.676 h</Tx>
      <Tx x={208} y={294} a="l" s={10.5}>t<Sub>1/2</Sub>=0.821 h</Tx>
      <Tx x={369} y={294} a="l" s={10.5}>t<Sub>1/2</Sub>=15.4 h</Tx>

      {/* D */}
      <Tx x={588} y={188} s={10.5}>iD1 (μM)</Tx>
      <HLine x0={531} x1={650} y={195} />
      {D_lanes.map((l, i) => (
        <Tx key={"dl" + i} x={BD[0][0] + ((i + 0.5) * BD[0][2]) / 6} y={202.5} s={10.5}>{l}</Tx>
      ))}
      <Tx x={522} y={217.5} a="r" s={10.5}>GDF15</Tx>
      <Tx x={522} y={235} a="r" s={10.5}>FGF21</Tx>
      <Tx x={522} y={254} a="r" s={10.5}>β-ACTIN</Tx>

      {/* E */}
      <YT x={671.5} y={249.5} s={10.5} lh={13}>Relative <i>Gdf15</i> mRNA<br />(% of 0 μM)</YT>
      <YT x={824.5} y={249.5} s={10.5} lh={13}>Relative <i>Fgf21</i> mRNA<br />(% of 0 μM)</YT>
      <Tx x={757} y={321} s={10.5}>μM</Tx>
      <Tx x={912} y={321} s={10.5}>μM</Tx>
      <Tx x={811} y={294} a="r" s={10.5}>EC<Sub>50</Sub>: 1.11 μM</Tx>
      <Tx x={963} y={294} a="r" s={10.5}>EC<Sub>50</Sub>: 2.08 μM</Tx>

      {/* F */}
      <LegVI x={100} y={353} />
      <LegVI x={258} y={353} />
      <YT x={12} y={419}>Luciferase activity<br />(% of <i>Cont</i>-veh)</YT>
      <YT x={180.5} y={419}>Luciferase activity<br />(% of <i>Cont</i>-veh)</YT>
      <Tx x={cx(PF1, 2, 0)} y={482} it s={10.5}>Cont</Tx>
      <Tx x={cx(PF1, 2, 1)} y={486.5} s={10.5} lh={10}><i>GDF15</i><br />promotor</Tx>
      <Tx x={cx(PF2, 2, 0)} y={482} it s={10.5}>Cont</Tx>
      <Tx x={cx(PF2, 2, 1)} y={486.5} s={10.5} lh={10}><i>FGF21</i><br />promotor</Tx>

      {/* G */}
      <YT x={340} y={412} s={10.5}>Abs 254 nm</YT>
      <Tx x={473} y={361} a="r" s={10.5}>
        <span style={{ display: "inline-block", width: 6, height: 1.5, background: GBLUE, verticalAlign: "middle" }} />Cont{" "}
        <span style={{ display: "inline-block", width: 6, height: 1.5, background: RED, verticalAlign: "middle" }} />iD1
      </Tx>
      <Tx x={441} y={389} s={10.5}>Polysome</Tx>
      <HLine x0={401} x1={472} y={397} />
      <Tx x={390} y={368} rot={-90} s={9.5}>80S</Tx>
      <Tx x={367} y={432} rot={-90} s={9.5}>40S</Tx>
      <Tx x={380} y={440} rot={-90} s={9.5}>60S</Tx>
      <Sed x0={351} x1={467} y={484} cxm={412} />

      {/* H */}
      <LegH x={640} y={348} />
      <LegH x={800} y={348} />
      <LegH x={968} y={348} />
      <YT x={501} y={419} s={11}>Relative <i>Gdf15</i> mRNA (%)</YT>
      <YT x={658} y={419} s={11}>Relative <i>Fgf21</i> mRNA (%)</YT>
      <YT x={818} y={419} s={11}>Relative <i>β-Actin</i> mRNA (%)</YT>
      <Sed x0={511} x1={649} y={484} cxm={575} />
      <Sed x0={676} x1={804} y={484} cxm={737} />
      <Sed x0={842} x1={971} y={484} cxm={900} />

      {/* I / J */}
      <LegVI x={88} y={512} />
      <LegVI x={245} y={512} />
      <LegVI x={408} y={512} />
      <LegVI x={567} y={512} />
      <YT x={19} y={587} lh={15}>Luciferase activity<br />(% of <i>Cont</i>)</YT>
      <YT x={176.5} y={587} lh={15}>Luciferase activity<br />(% of <i>Cont</i>)</YT>
      <YT x={338} y={587} lh={15}>Luciferase activity<br />(% of <i>Cont</i>)</YT>
      <YT x={497} y={587} lh={15}>Luciferase activity<br />(% of <i>Cont</i>)</YT>
      <Tx x={cx(PI1, 2, 0)} y={653} it s={10.5}>Cont</Tx>
      <Tx x={cx(PI1, 2, 1) + 4} y={653} s={10.5}><i>GDF15</i> 3'UTR</Tx>
      <Tx x={cx(PI2, 2, 0)} y={653} it s={10.5}>Cont</Tx>
      <Tx x={cx(PI2, 2, 1) + 4} y={653} s={10.5}><i>FGF21</i> 3'UTR</Tx>
      <Tx x={cx(PJ1, 2, 0)} y={653} it s={10.5}>Cont</Tx>
      <Tx x={cx(PJ1, 2, 1) + 4} y={653} s={10.5}><i>Gdf15</i> 3'UTR</Tx>
      <Tx x={cx(PJ2, 2, 0)} y={653} it s={10.5}>Cont</Tx>
      <Tx x={cx(PJ2, 2, 1) + 4} y={653} s={10.5}><i>Fgf21</i> 3'UTR</Tx>

      {/* K */}
      <Tx x={730} y={546} s={10.5}>GDF15→</Tx>
      <Tx x={671} y={557} s={10.5}>CDS</Tx>
      <Tx x={653} y={567} s={10.5}>5'UTR</Tx>
      <Tx x={780} y={557} s={10.5}>CDS</Tx>
      <Tx x={800} y={567} s={10.5}>3'UTR</Tx>
      <Tx x={676} y={602} s={10.5} b>chr19</Tx>
      <Tx x={801} y={602} s={10.5} b>Mb</Tx>

      {/* L */}
      <Tx x={877} y={527} a="r" s={10}>Myc-CNOT6L</Tx>
      <Tx x={877} y={538} a="r" s={10}>Flag-YTHDF2</Tx>
      <Tx x={900} y={527} s={10}>+</Tx>
      <Tx x={934} y={527} s={10}>+</Tx>
      <Tx x={900} y={538} s={10}>-</Tx>
      <Tx x={934} y={538} s={10}>+</Tx>
      <Tx x={877} y={557} a="r" s={10.5}>CNOT6L</Tx>
      <Tx x={877} y={582} a="r" s={10.5}>YTHDF2</Tx>
      <Tx x={877} y={613} a="r" s={10.5}>CNOT6L</Tx>
      <Tx x={877} y={637} a="r" s={10.5}>YTHDF2</Tx>
      <VLine x={959} y0={547} y1={593} />
      <VLine x={959} y0={603} y1={648} />
      <Tx x={968} y={570} rot={90} s={10.5}>Input</Tx>
      <Tx x={968} y={625} rot={90} s={10.5}>IP: Flag</Tx>

      {/* M / N */}
      <YT x={15.5} y={748} s={10.5}>IPed <i>GDF15</i> mRNA<br />(% of Flag-YTHDF2)</YT>
      <YT x={155} y={748} s={10.5}>Input <i>GDF15</i> mRNA<br />(% of Flag-YTHDF2)</YT>
      <YT x={289.5} y={748} s={10.5}>IPed <i>GDF15</i> mRNA<br />(% of Flag-CNOT6L)</YT>
      <YT x={427.5} y={748} s={10.5}>Input <i>GDF15</i> mRNA<br />(% of Flag-CNOT6L)</YT>
      {[PM1, PM2, PN1, PN2].map((p, k) => (
        <React.Fragment key={"mn" + k}>
          <Tx x={cx(p, 2, 0)} y={812} s={10.5}>Cont</Tx>
          <Tx x={cx(p, 2, 1)} y={819.5} s={10.5} lh={14.5}>Flag-<br />{k < 2 ? "YTHDF2" : "CNOT6L"}</Tx>
        </React.Fragment>
      ))}

      {/* O */}
      <YT x={553.5} y={748} s={10.5}>Relative <i>Gdf15</i> mRNA<br />(% of 0 h)</YT>
      <YT x={770} y={748} s={10.5}>Relative <i>Fgf21</i> mRNA<br />(% of 0 h)</YT>
      <Tx x={672} y={824} s={10.5}>{tA}</Tx>
      <Tx x={890} y={824} s={10.5}>{tA}</Tx>

      {/* P / Q */}
      <YT x={9} y={912}>Serum GDF15 (pg/ml)</YT>
      <YT x={228} y={912}>Serum FGF21 (pg/ml)</YT>
      <YT x={456.5} y={912} lh={15}>Hepatic GDF15<br />(fg/μg of liver protein)</YT>
      <Tx x={126} y={989}>{tA}</Tx>
      <Tx x={345} y={989}>{tA}</Tx>
      <Tx x={570} y={989}>{tA}</Tx>

      {/* R */}
      <Tx x={790} y={865} s={10.5}>{tA}</Tx>
      <HLine x0={708} x1={872} y={872} />
      {R_lanes.map((l, i) => (
        <Tx key={"rl" + i} x={BR[0][0] + ((i + 0.5) * BR[0][2]) / 7} y={881} s={10.5}>{l}</Tx>
      ))}
      <Tx x={703} y={894} a="r" s={10.5}>GDF15</Tx>
      <Tx x={703} y={913} a="r" s={10.5}>α-tubulin</Tx>
    </>
  );
}

export default function App() {
  return (
    <div style={{ position: "absolute", left: 0, top: 0, width: 977, height: 998, background: "#ffffff", overflow: "hidden", fontFamily: FF, color: INK }}>
      {CHARTS.map((c, i) => (
        <ChartCanvas key={i} rect={c.rect} make={c.make} />
      ))}
      <Texts />
    </div>
  );
}
